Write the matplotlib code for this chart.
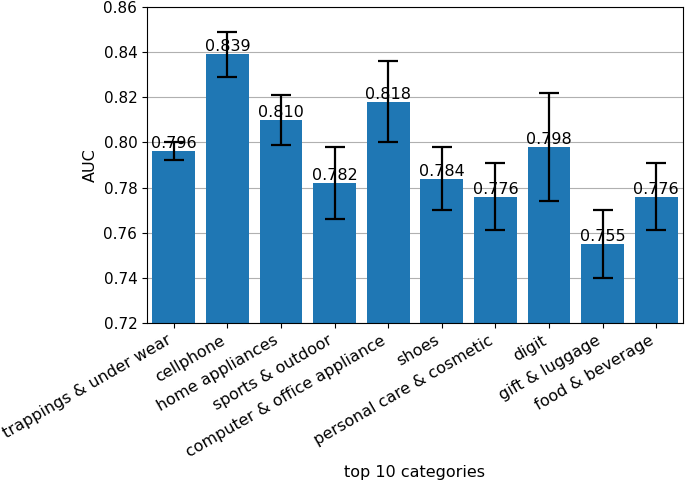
import matplotlib

matplotlib.use("Agg")
import matplotlib.pyplot as plt
import numpy as np

categories = [
    "trappings & under wear",
    "cellphone",
    "home appliances",
    "sports & outdoor",
    "computer & office appliance",
    "shoes",
    "personal care & cosmetic",
    "digit",
    "gift & luggage",
    "food & beverage",
]
auc = [0.796, 0.839, 0.810, 0.782, 0.818, 0.784, 0.776, 0.798, 0.755, 0.776]
err_low = [0.792, 0.829, 0.799, 0.766, 0.800, 0.770, 0.761, 0.774, 0.740, 0.761]
err_high = [0.800, 0.849, 0.821, 0.798, 0.836, 0.798, 0.791, 0.822, 0.770, 0.791]

auc_arr = np.array(auc)
yerr = [auc_arr - np.array(err_low), np.array(err_high) - auc_arr]

fig = plt.figure(figsize=(6.85, 4.87), dpi=100)
ax = fig.add_axes([147 / 685, 1 - 323 / 487, 536 / 685, 316 / 487])

x = np.arange(len(categories))
ax.set_axisbelow(True)
ax.yaxis.grid(True, color="#b0b0b0", linewidth=0.8)
ax.bar(x, auc, width=0.8, color="#1f77b4",
       yerr=yerr, capsize=7.5, error_kw=dict(ecolor="black", elinewidth=1.6, capthick=1.6))

for xi, v in zip(x, auc):
    ax.text(xi, v, f"{v:.3f}", ha="center", va="bottom", fontsize=11.5)

ax.set_xlim(-0.5, len(categories) - 0.5)
ax.set_ylim(0.72, 0.86)
ax.set_yticks(np.arange(0.72, 0.8601, 0.02))
ax.set_xticks(x)
ax.set_xticklabels(categories, rotation=30, ha="right", fontsize=11.5)
ax.tick_params(axis="y", labelsize=11)
ax.set_ylabel("AUC", fontsize=11.5)
ax.set_xlabel("top 10 categories", fontsize=11.5)

fig.savefig("out.png", dpi=100)
